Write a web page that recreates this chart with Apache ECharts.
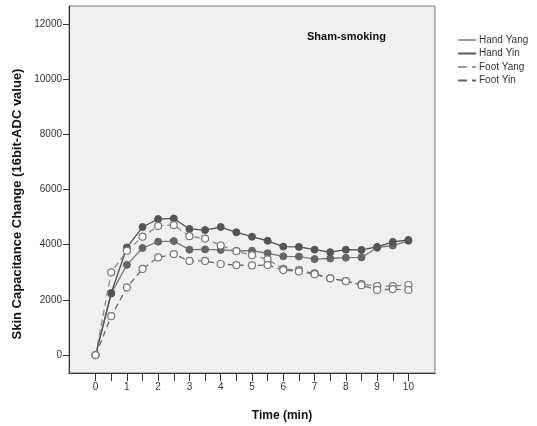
<!DOCTYPE html>
<html>
<head>
<meta charset="utf-8">
<script src="https://cdn.jsdelivr.net/npm/echarts@6/dist/echarts.min.js"></script>
<style>html,body{margin:0;padding:0;background:#fff}#c{width:537px;height:426px}</style>
</head>
<body>
<div id="c"></div>
<script>
var times = [0,0.5,1,1.5,2,2.5,3,3.5,4,4.5,5,5.5,6,6.5,7,7.5,8,8.5,9,9.5,10];
var handYang = [0,2230,3270,3880,4110,4130,3820,3830,3810,3780,3780,3690,3580,3570,3480,3500,3530,3540,3890,3970,4140];
var handYin  = [0,2250,3900,4640,4930,4950,4570,4530,4640,4450,4290,4140,3930,3920,3820,3730,3820,3810,3920,4100,4170];
var footYang = [0,3000,3780,4290,4680,4710,4310,4220,3970,3770,3620,3470,3120,3080,2960,2780,2680,2570,2500,2500,2540];
var footYin  = [0,1410,2450,3120,3540,3660,3410,3410,3300,3260,3250,3260,3080,3030,2930,2780,2680,2530,2360,2390,2360];
var xTicks = [0,0.5,1,1.5,2,2.5,3,3.5,4,4.5,5,5.5,6,6.5,7,7.5,8,8.5,9,9.5,10];
var xLabels = [0,1,2,3,4,5,6,7,8,9,10];
var yTicks = [0,2000,4000,6000,8000,10000,12000];
var seriesNames = ['Hand Yang','Hand Yin','Foot Yang','Foot Yin'];

function pairs(v){ return times.map(function(t,i){ return [t, v[i]]; }); }

var FONT = '"Liberation Sans", Arial, sans-serif';
var chart = echarts.init(document.getElementById('c'), null, {renderer:'canvas'});
var solidIcon = 'path://M0,0h18v2h-18z';
var dashIcon = 'path://M0,0h9v2h-9zM14,0h4v2h-4z';

chart.setOption({
  animation:false,
  backgroundColor:'#ffffff',
  textStyle:{fontFamily:FONT},
  grid:{left:69, top:6, width:366, height:367, show:true, backgroundColor:'#f0f0f0', borderColor:'#777', borderWidth:1},
  title:[
    {text:'Sham-smoking', left:302, top:26, textStyle:{fontFamily:FONT, fontSize:11, fontWeight:'bold', color:'#111'}},
    {text:'Time (min)', left:277, top:405, textAlign:'center', textStyle:{fontFamily:FONT, fontSize:12, fontWeight:'bold', color:'#111'}}
  ],
  graphic:[{
    type:'text', x:17, y:204, rotation:Math.PI/2,
    style:{text:'Skin Capacitance Change (16bit-ADC value)', font:'bold 13px "Liberation Sans", Arial, sans-serif', fill:'#111', textAlign:'center', textVerticalAlign:'middle'}
  }],
  legend:{
    orient:'vertical', left:458, top:34, padding:0, itemWidth:18, itemHeight:2, itemGap:1.5,
    itemStyle:{borderWidth:0},
    textStyle:{fontFamily:FONT, fontSize:10, color:'#333', lineHeight:12, padding:[0,0,0,-2]},
    data:[
      {name:'Hand Yang', icon:solidIcon, itemStyle:{color:'#999', borderWidth:0}},
      {name:'Hand Yin', icon:solidIcon, itemStyle:{color:'#555', borderWidth:0}},
      {name:'Foot Yang', icon:dashIcon, itemStyle:{color:'#999', borderWidth:0}},
      {name:'Foot Yin', icon:dashIcon, itemStyle:{color:'#666', borderWidth:0}}
    ]
  },
  xAxis:{
    type:'value', min:-0.85, max:10.85,
    axisLine:{show:true, onZero:false, lineStyle:{color:'#333', width:1}},
    axisTick:{show:true, length:8, customValues:xTicks, lineStyle:{color:'#333'}},
    axisLabel:{customValues:xLabels, fontSize:10, color:'#333', margin:9, fontFamily:FONT},
    splitLine:{show:false}
  },
  yAxis:{
    type:'value', min:-650, max:12650,
    axisLine:{show:true, onZero:false, lineStyle:{color:'#333', width:1}},
    axisTick:{show:true, length:6, customValues:yTicks, lineStyle:{color:'#333'}},
    axisLabel:{customValues:yTicks, formatter:function(v){return String(v);}, fontSize:10, color:'#333', margin:7, fontFamily:FONT},
    splitLine:{show:false}
  },
  series:[
    {name:seriesNames[0], type:'line', data:pairs(handYang), symbol:'circle', symbolSize:7, z:3,
      lineStyle:{color:'#7a7a7a', width:1.3}, itemStyle:{color:'#666', borderColor:'#666', borderWidth:1}},
    {name:seriesNames[1], type:'line', data:pairs(handYin), symbol:'circle', symbolSize:7, z:3,
      lineStyle:{color:'#4e4e4e', width:1.3}, itemStyle:{color:'#555', borderColor:'#555', borderWidth:1}},
    {name:seriesNames[2], type:'line', data:pairs(footYang), symbol:'circle', symbolSize:7, z:4,
      lineStyle:{color:'#888', width:1.3, type:[6,4]}, itemStyle:{color:'#fff', borderColor:'#777', borderWidth:1.2}},
    {name:seriesNames[3], type:'line', data:pairs(footYin), symbol:'circle', symbolSize:7, z:4,
      lineStyle:{color:'#6a6a6a', width:1.3, type:[6,4]}, itemStyle:{color:'#fff', borderColor:'#777', borderWidth:1.2}}
  ]
});
</script>
</body>
</html>
